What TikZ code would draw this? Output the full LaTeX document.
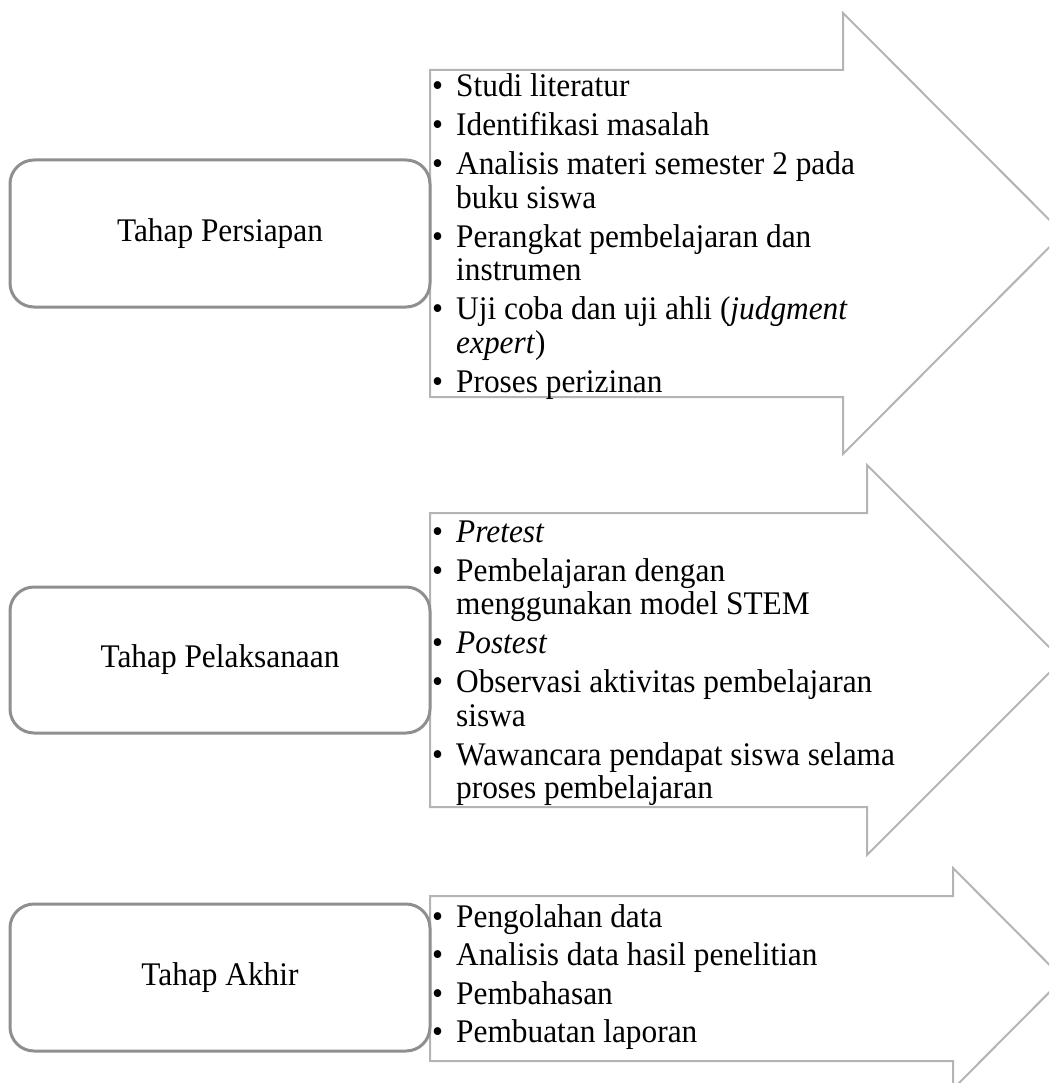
\documentclass[tikz,border=0pt]{standalone}
\usepackage{fontspec}
\setmainfont[FakeStretch=0.95]{Liberation Serif}
\definecolor{arrowgray}{HTML}{B4B4B4}
\definecolor{boxgray}{HTML}{8F8F8F}
\newcommand{\bl}{\makebox[24pt][l]{•}}
\newcommand{\itemlist}[1]{\begin{tabular}[t]{@{}l@{}l@{}}#1\end{tabular}}
\tikzset{
  stagebox/.style={draw=boxgray, line width=3pt, rounded corners=24pt, minimum width=420pt, minimum height=147pt, inner sep=0pt, align=center, font=\fontsize{33}{33.5}\selectfont},
  bigarrow/.style={draw=arrowgray, line width=2pt, line join=miter},
  listtext/.style={anchor=base west, inner sep=0pt, font=\fontsize{33}{33.5}\selectfont}
}
\begin{document}
\begin{tikzpicture}[x=1pt,y=-1pt]
\useasboundingbox (0,0) rectangle (1049,1083);
\clip (0,0) rectangle (1049,1083);
% arrows
\draw[bigarrow] (430,70) -- (843,70) -- (843,13) -- (1063,233.5) -- (843,454) -- (843,397) -- (430,397) -- cycle;
\draw[bigarrow] (430,513) -- (867,513) -- (867,465) -- (1062,660) -- (867,855) -- (867,807) -- (430,807) -- cycle;
\draw[bigarrow] (430,896) -- (953,896) -- (953,868) -- (1063,978.5) -- (953,1089) -- (953,1061) -- (430,1061) -- cycle;
% boxes
\node[stagebox] (b1) at (220,233.5) {Tahap Persiapan};
\node[stagebox, minimum height=146pt] (b2) at (220,660) {Tahap Pelaksanaan};
\node[stagebox] (b3) at (220,977.5) {Tahap Akhir};
% lists
\node[listtext] (l1) at (432,97) {\itemlist{
\bl & Studi literatur\\[5.5pt]
\bl & Identifikasi masalah\\[5.5pt]
\bl & Analisis materi semester 2 pada\\
    & buku siswa\\[5.5pt]
\bl & Perangkat pembelajaran dan\\
    & instrumen\\[5.5pt]
\bl & Uji coba dan uji ahli (\textit{judgment}\\
    & \textit{expert})\\[5.5pt]
\bl & Proses perizinan}};
\node[listtext] (l2) at (432,542) {\itemlist{
\bl & \textit{Pretest}\\[5.5pt]
\bl & Pembelajaran dengan\\
    & menggunakan model STEM\\[5.5pt]
\bl & \textit{Postest}\\[5.5pt]
\bl & Observasi aktivitas pembelajaran\\
    & siswa\\[5.5pt]
\bl & Wawancara pendapat siswa selama\\
    & proses pembelajaran}};
\node[listtext] (l3) at (432,927) {\itemlist{
\bl & Pengolahan data\\[5pt]
\bl & Analisis data hasil penelitian\\[5pt]
\bl & Pembahasan\\[5pt]
\bl & Pembuatan laporan}};
\end{tikzpicture}
\end{document}
